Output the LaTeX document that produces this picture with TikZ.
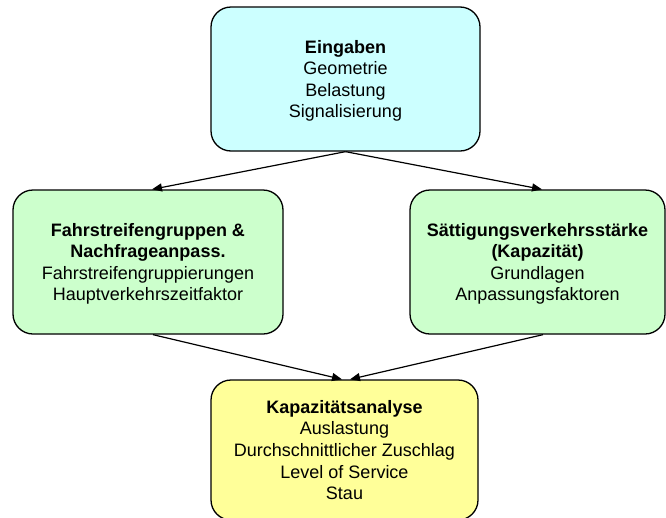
\documentclass[tikz,border=0pt]{standalone}
\usepackage{fontspec}
\setmainfont{Liberation Sans}
\usetikzlibrary{arrows.meta}
\definecolor{boxcyan}{HTML}{CCFFFF}
\definecolor{boxgreen}{HTML}{CCFFCC}
\definecolor{boxyellow}{HTML}{FFFF99}
\tikzset{
  stage/.style={draw=black, line width=1.3pt, rounded corners=20pt,
    align=center, inner sep=0pt, text depth=0pt,
    font=\fontsize{18}{21.6}\selectfont},
  flow/.style={line width=1.2pt, -{Triangle[length=10pt,width=8pt]}}
}
\begin{document}
\begin{tikzpicture}[x=1pt,y=-1pt]
\useasboundingbox (0,0) rectangle (666,517);
\node[stage, fill=boxcyan, minimum width=269pt, minimum height=144pt] (inp) at (345.5,79)
  {\textbf{Eingaben}\\Geometrie\\Belastung\\Signalisierung};
\node[stage, fill=boxgreen, minimum width=270pt, minimum height=144pt] (lane) at (148,262)
  {\textbf{Fahrstreifengruppen \&}\\\textbf{Nachfrageanpass.}\\Fahrstreifengruppierungen\\Hauptverkehrszeitfaktor};
\node[stage, fill=boxgreen, minimum width=255pt, minimum height=144pt] (sat) at (537.5,262)
  {\textbf{Sättigungsverkehrsstärke}\\\textbf{(Kapazität)}\\Grundlagen\\Anpassungsfaktoren};
\node[stage, fill=boxyellow, minimum width=267pt, minimum height=140pt] (cap) at (344.5,450)
  {\textbf{Kapazitätsanalyse}\\Auslastung\\Durchschnittlicher Zuschlag\\Level of Service\\Stau};
\draw[flow] (inp.south) -- ([xshift=4pt]lane.north);
\draw[flow] (inp.south) -- ([xshift=4.5pt]sat.north);
\draw[flow] ([xshift=5pt]lane.south) -- ([xshift=-2.5pt]cap.north);
\draw[flow] ([xshift=5.5pt]sat.south) -- ([xshift=5.5pt]cap.north);
\end{tikzpicture}
\end{document}
